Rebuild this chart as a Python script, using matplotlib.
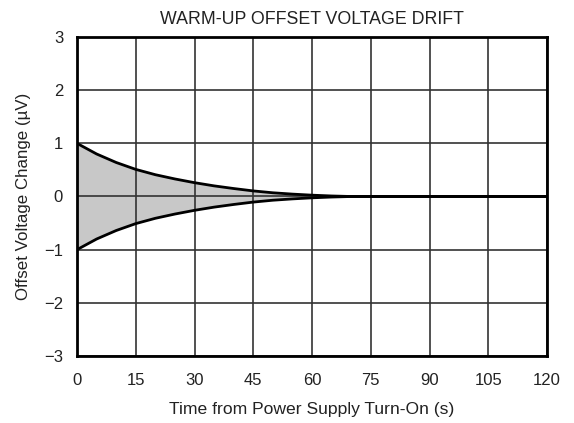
import matplotlib.pyplot as plt
import numpy as np

plt.rcParams['font.family'] = ['Liberation Sans', 'DejaVu Sans']

# envelope of warm-up drift
time_s = [0, 5, 10, 15, 20, 25, 30, 35, 40, 45, 50, 55, 60, 65, 70, 120]
upper_uv = [1.0, 0.80, 0.64, 0.51, 0.41, 0.33, 0.26, 0.20, 0.15, 0.105, 0.07, 0.045, 0.025, 0.01, 0.0, 0.0]
lower_uv = [-v for v in upper_uv]

x_ticks = [0, 15, 30, 45, 60, 75, 90, 105, 120]
y_ticks = [-3, -2, -1, 0, 1, 2, 3]

fig = plt.figure(figsize=(5.74, 4.23), dpi=100)
ax = fig.add_axes([77 / 574, 1 - 356 / 423, 470 / 574, 319 / 423])

ax.fill_between(time_s, lower_uv, upper_uv, color='#c8c8c8', lw=0, zorder=1)
ax.plot(time_s, upper_uv, color='black', lw=2, zorder=3)
ax.plot(time_s, lower_uv, color='black', lw=2, zorder=3)

ax.set_xlim(0, 120)
ax.set_ylim(-3, 3)
ax.set_xticks(x_ticks)
ax.set_yticks(y_ticks)
ax.grid(True, color='#333333', lw=1.2, zorder=2)
ax.set_axisbelow(False)
ax.tick_params(length=0, labelsize=12, colors='#222222')
ax.tick_params(axis='x', pad=12)
ax.tick_params(axis='y', pad=10)
for s in ax.spines.values():
    s.set_linewidth(2)
    s.set_color('black')
    s.set_zorder(4)

ax.set_xlabel('Time from Power Supply Turn-On (s)', fontsize=12.6, color='#222222', labelpad=10)
ax.set_ylabel('Offset Voltage Change (µV)', fontsize=12.2, color='#222222', labelpad=9)
ax.set_title('WARM-UP OFFSET VOLTAGE DRIFT', fontsize=12.8, color='#222222', pad=9)

fig.savefig('out.png', dpi=100)
